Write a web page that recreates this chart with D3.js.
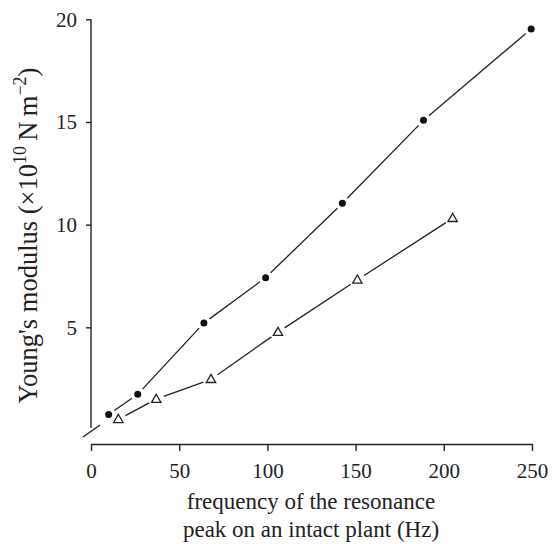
<!DOCTYPE html>
<html>
<head>
<meta charset="utf-8">
<script src="https://cdn.jsdelivr.net/npm/d3@7"></script>
<style>
  html, body { margin: 0; padding: 0; background: #fff; }
  svg { display: block; }
  text { font-family: "Liberation Serif", "DejaVu Serif", serif; fill: #222; }
</style>
</head>
<body>
<script>
// ---- data ----
const circleFreq = [10, 26.5, 64, 99, 142.5, 188.5, 249.5];
const circleModulus = [0.76, 1.74, 5.21, 7.42, 11.04, 15.08, 19.53];
const triangleFreq = [15.5, 37, 68, 106, 151, 205];
const triangleModulus = [0.52, 1.5, 2.47, 4.76, 7.31, 10.31];
const xTicks = [0, 50, 100, 150, 200, 250];
const yTicks = [5, 10, 15, 20];
const xTitleLines = ["frequency of the resonance", "peak on an intact plant (Hz)"];

const W = 555, H = 544;
const svg = d3.select("body").append("svg").attr("width", W).attr("height", H);

const x = d3.scaleLinear().domain([0, 250]).range([91, 532]);
const y = d3.scaleLinear().domain([0, 20]).range([430, 19.3]);
const ink = "#222";

// x axis
const xAxis = svg.append("g").attr("transform", "translate(0,444)")
  .call(d3.axisBottom(x).tickValues(xTicks).tickSize(7).tickSizeOuter(0).tickPadding(12));
xAxis.selectAll("text").attr("font-size", 21).attr("font-family", "Liberation Serif").attr("fill", ink);
xAxis.selectAll("line, path").attr("stroke", ink).attr("stroke-width", 1.4);

// y axis
const yAxis = svg.append("g").attr("transform", "translate(91,0)")
  .call(d3.axisLeft(y).tickValues(yTicks).tickSize(5).tickSizeOuter(0).tickPadding(9));
yAxis.selectAll("text").attr("font-size", 21).attr("font-family", "Liberation Serif").attr("fill", ink);
yAxis.selectAll("line, path").attr("stroke", ink).attr("stroke-width", 1.4);
yAxis.select("path.domain").attr("d", `M0,${y(0) - 2}V${y(20)}`);

// axis break mark
svg.append("line")
  .attr("x1", x(0) - 8).attr("y1", y(0) + 7)
  .attr("x2", x(0) + 9).attr("y2", y(0) - 5)
  .attr("stroke", ink).attr("stroke-width", 1.4);

// connecting segments with gaps near markers
function drawSeries(xs, ys, gapA) {
  const pts = xs.map((v, i) => [x(v), y(ys[i])]);
  for (let i = 0; i < pts.length - 1; i++) {
    const [x1, y1] = pts[i], [x2, y2] = pts[i + 1];
    const dx = x2 - x1, dy = y2 - y1, L = Math.hypot(dx, dy);
    const ux = dx / L, uy = dy / L;
    svg.append("line")
      .attr("x1", x1 + ux * gapA).attr("y1", y1 + uy * gapA)
      .attr("x2", x2 - ux * gapA).attr("y2", y2 - uy * gapA)
      .attr("stroke", ink).attr("stroke-width", 1.3);
  }
  return pts;
}
drawSeries(circleFreq, circleModulus, 7);
drawSeries(triangleFreq, triangleModulus, 8);

// markers
svg.selectAll("circle.pt").data(circleFreq.map((v, i) => [v, circleModulus[i]]))
  .join("circle").attr("class", "pt")
  .attr("cx", d => x(d[0])).attr("cy", d => y(d[1])).attr("r", 3.5)
  .attr("fill", "#111");

const tri = d3.symbol().type(d3.symbolTriangle).size(38);
svg.selectAll("path.tri").data(triangleFreq.map((v, i) => [v, triangleModulus[i]]))
  .join("path").attr("class", "tri")
  .attr("d", tri)
  .attr("transform", d => `translate(${x(d[0])},${y(d[1]) + 0.5})`)
  .attr("fill", "#fff").attr("stroke", ink).attr("stroke-width", 1.3);

// x title
const xt = svg.append("text").attr("text-anchor", "middle").attr("font-size", 23);
xTitleLines.forEach((s, i) => {
  xt.append("tspan").attr("x", 311).attr("y", 509 + i * 28).text(s);
});

// y title
const yt = svg.append("text").attr("text-anchor", "middle").attr("font-size", 26.5)
  .attr("transform", "translate(37,235.5) rotate(-90)");
yt.append("tspan").text("Young's modulus (×10");
yt.append("tspan").attr("font-size", "0.68em").attr("dy", "-0.62em").text("10");
yt.append("tspan").attr("dy", "0.42em").text("\u2009N\u2009m");
yt.append("tspan").attr("font-size", "0.68em").attr("dy", "-0.62em").text("\u22122");
yt.append("tspan").attr("dy", "0.42em").text(")");
</script>
</body>
</html>
